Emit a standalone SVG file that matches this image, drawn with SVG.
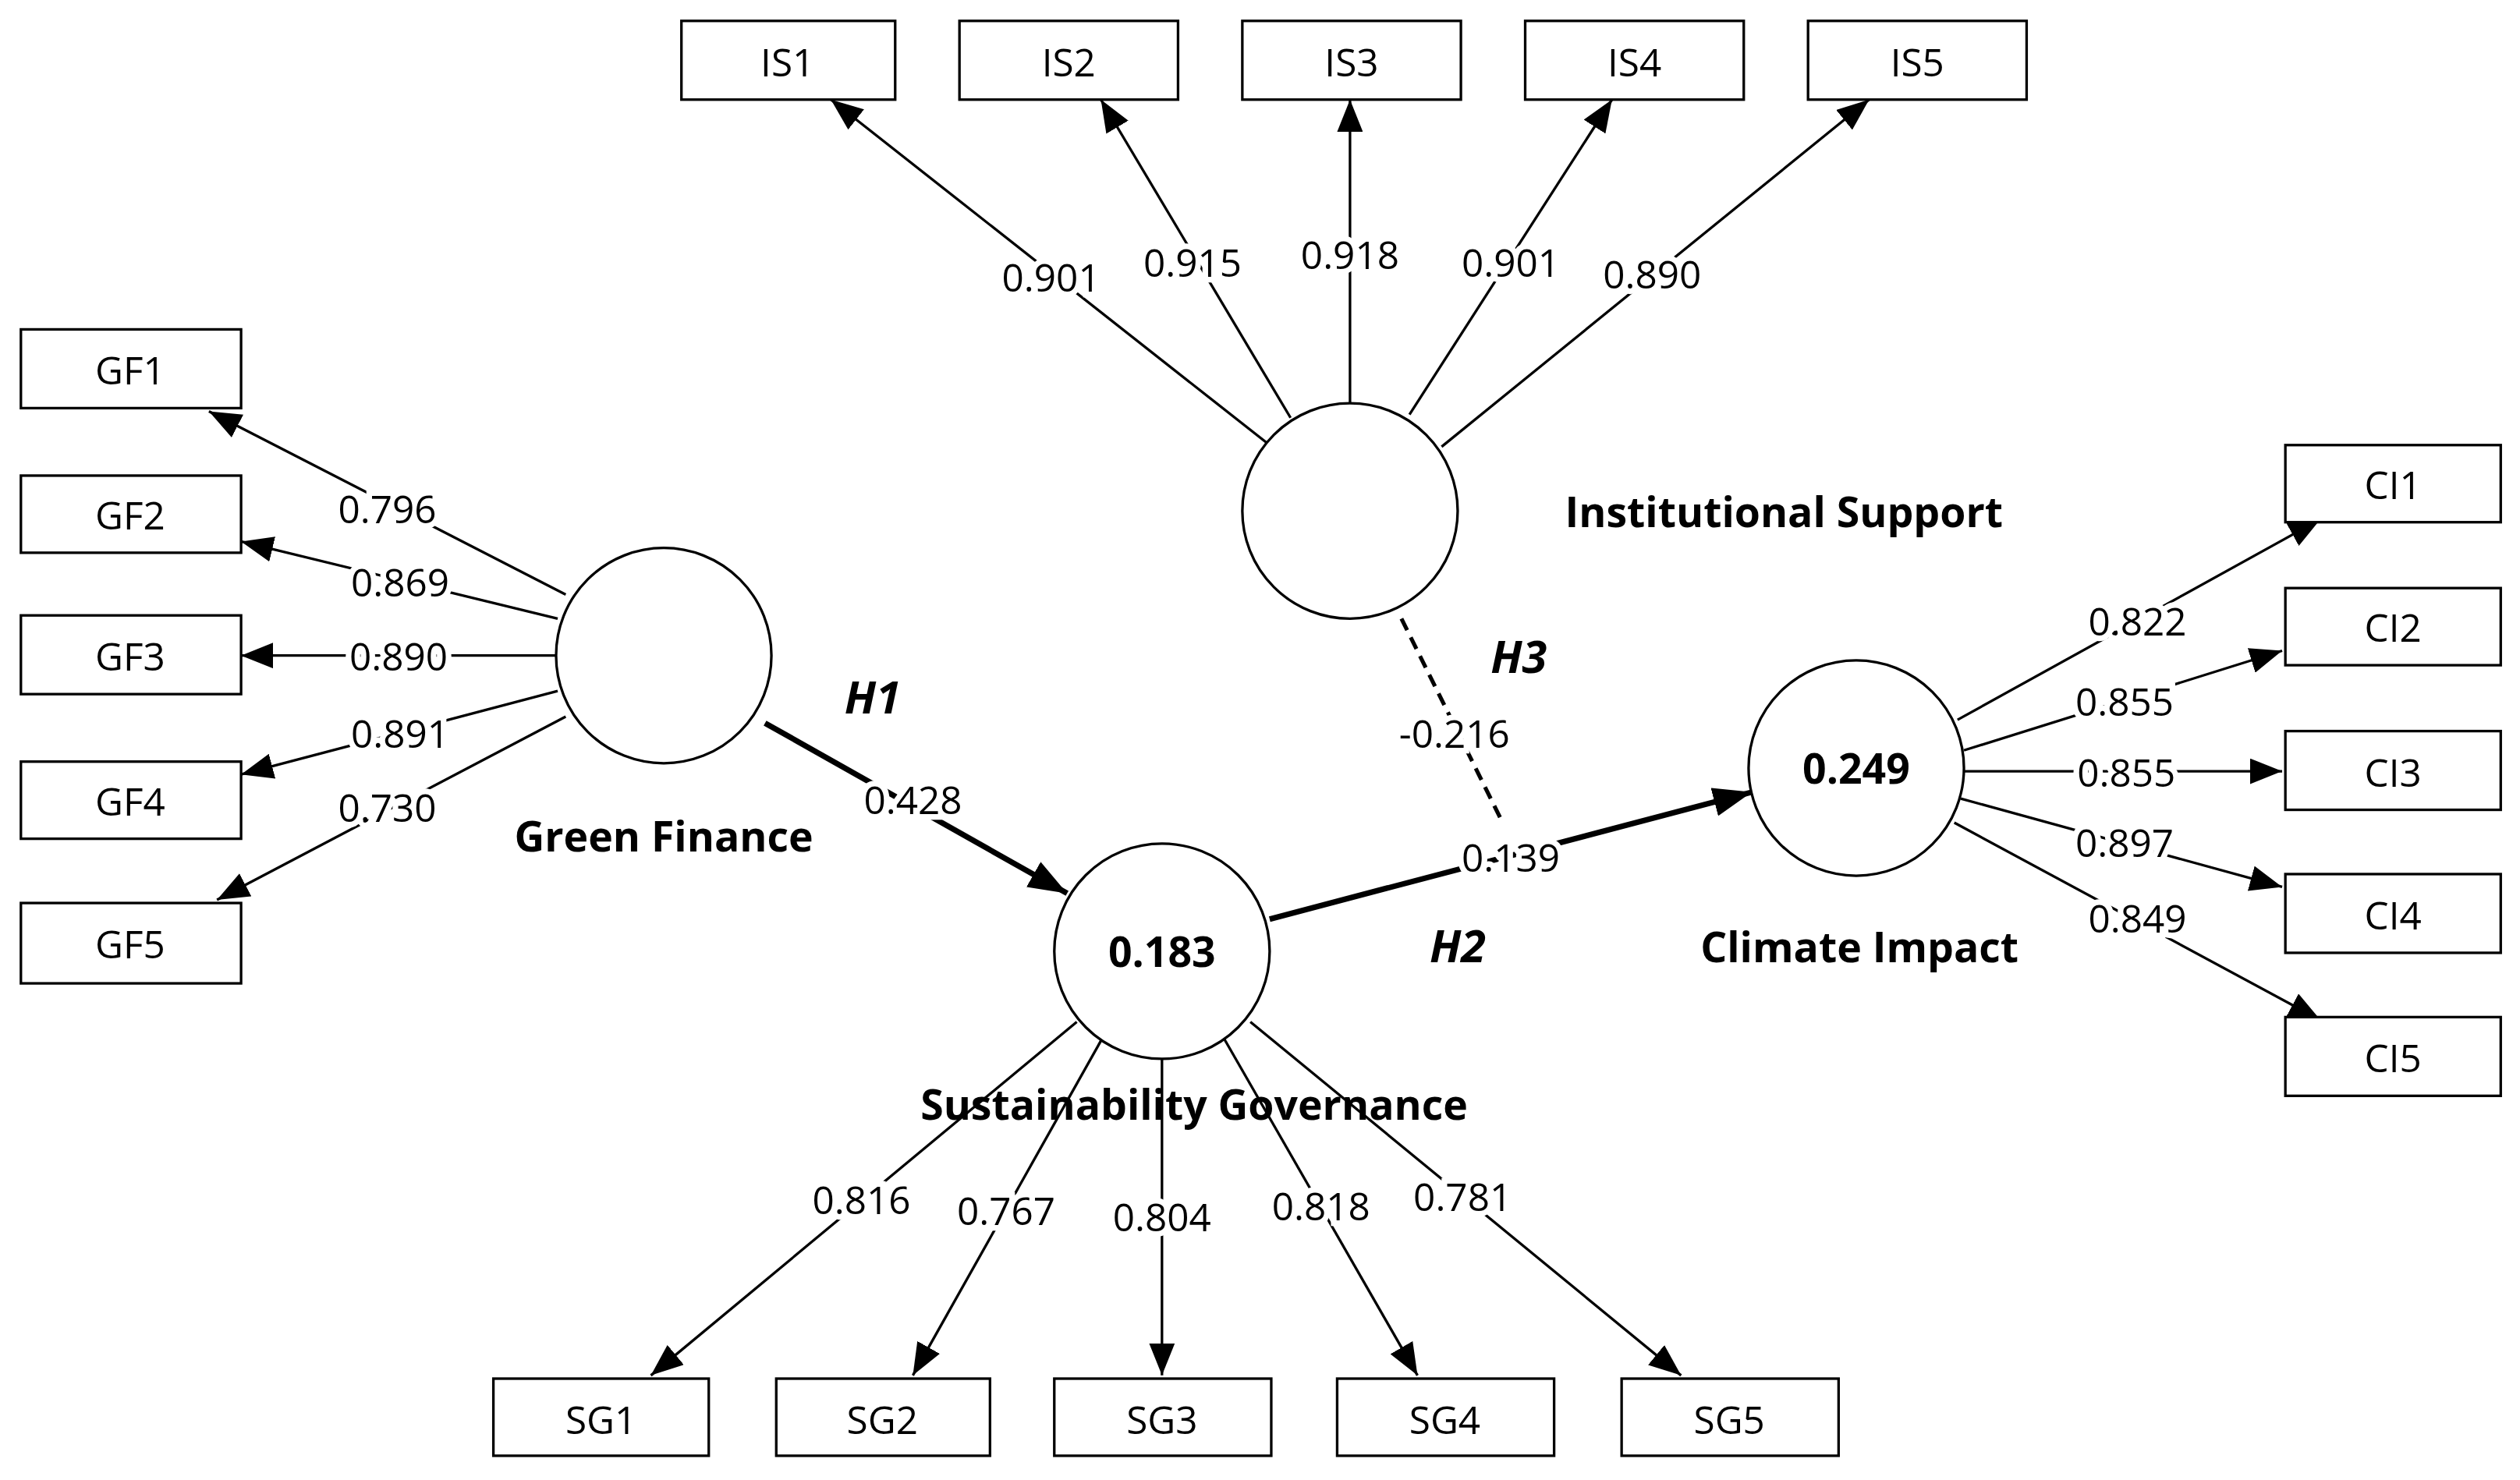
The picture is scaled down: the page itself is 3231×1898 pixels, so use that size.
<svg xmlns="http://www.w3.org/2000/svg" width="3231" height="1898" viewBox="0 0 3231 1898">
<style>
.box{fill:#fff;stroke:#000;stroke-width:1.6}
.lv{fill:#fff;stroke:#000;stroke-width:1.6}
.t{font-family:"Open Sans","Noto Sans",sans-serif;font-size:24px;text-anchor:middle;dominant-baseline:central;fill:#000}
.lb{font-family:"Open Sans","Noto Sans",sans-serif;font-size:24px;text-anchor:middle;dominant-baseline:central;fill:#000;stroke:#fff;stroke-width:7;paint-order:stroke}
.b{font-family:"Open Sans","Noto Sans",sans-serif;font-size:26px;font-weight:bold;text-anchor:middle;dominant-baseline:central;fill:#000}
.bi{font-family:"Open Sans","Noto Sans",sans-serif;font-size:28px;font-weight:bold;font-style:italic;text-anchor:middle;dominant-baseline:central;fill:#000}
.l{stroke:#000;stroke-width:1.6;fill:none;marker-end:url(#a)}
.h{stroke:#000;stroke-width:3.5;fill:none;marker-end:url(#a2)}
</style>
<defs>
<marker id="a" markerUnits="userSpaceOnUse" viewBox="0 0 20 16" refX="20" refY="8" markerWidth="20" markerHeight="16" orient="auto"><path d="M0,0L20,8L0,16z"/></marker>
<marker id="a2" markerUnits="userSpaceOnUse" viewBox="0 0 24 18" refX="24" refY="9" markerWidth="24" markerHeight="18" orient="auto"><path d="M0,0L24,9L0,18z"/></marker>
</defs>
<rect width="3231" height="1898" fill="#fff"/>
<g transform="scale(2.0606)">
<g id="connectors">
<line class="l" x1="790" y1="277" x2="517" y2="62"/>
<line class="l" x1="803" y1="260" x2="685" y2="62"/>
<line class="l" x1="840" y1="252" x2="840" y2="62"/>
<line class="l" x1="877" y1="258" x2="1003" y2="62"/>
<line class="l" x1="897" y1="278" x2="1163" y2="62"/>
<line class="l" x1="352" y1="370" x2="130" y2="256"/>
<line class="l" x1="347" y1="385" x2="150" y2="337"/>
<line class="l" x1="346" y1="408" x2="150" y2="408"/>
<line class="l" x1="347" y1="430" x2="150" y2="482"/>
<line class="l" x1="352" y1="446" x2="135" y2="560"/>
<line class="l" x1="1218" y1="448" x2="1444" y2="323"/>
<line class="l" x1="1222" y1="467" x2="1420" y2="405"/>
<line class="l" x1="1222" y1="480" x2="1420" y2="480"/>
<line class="l" x1="1220" y1="497" x2="1420" y2="552"/>
<line class="l" x1="1216" y1="512" x2="1444" y2="635"/>
<line class="l" x1="670" y1="636" x2="405" y2="856"/>
<line class="l" x1="686" y1="646" x2="568" y2="856"/>
<line class="l" x1="723" y1="659" x2="723" y2="856"/>
<line class="l" x1="762" y1="647" x2="882" y2="856"/>
<line class="l" x1="778" y1="636" x2="1046" y2="856"/>
<line class="h" x1="476" y1="450" x2="664" y2="556"/>
<line class="h" x1="790" y1="572" x2="1090" y2="493"/>
<line x1="872" y1="385" x2="935" y2="512" stroke="#000" stroke-width="2.5" stroke-dasharray="8,5"/>
<text class="lb" x="654" y="172">0.901</text>
<text class="lb" x="742" y="163">0.915</text>
<text class="lb" x="840" y="158">0.918</text>
<text class="lb" x="940" y="163">0.901</text>
<text class="lb" x="1028" y="170">0.890</text>
<text class="lb" x="241" y="316">0.796</text>
<text class="lb" x="249" y="362">0.869</text>
<text class="lb" x="248" y="408">0.890</text>
<text class="lb" x="249" y="456">0.891</text>
<text class="lb" x="241" y="502">0.730</text>
<text class="lb" x="1330" y="386">0.822</text>
<text class="lb" x="1322" y="436">0.855</text>
<text class="lb" x="1323" y="480">0.855</text>
<text class="lb" x="1322" y="524">0.897</text>
<text class="lb" x="1330" y="571">0.849</text>
<text class="lb" x="536" y="746">0.816</text>
<text class="lb" x="626" y="753">0.767</text>
<text class="lb" x="723" y="757">0.804</text>
<text class="lb" x="822" y="750">0.818</text>
<text class="lb" x="910" y="744">0.781</text>
<text class="lb" x="568" y="497">0.428</text>
<text class="lb" x="940" y="533">0.139</text>
<text class="lb" x="905" y="456">-0.216</text>
<text class="bi" x="543" y="433">H1</text>
<text class="bi" x="907" y="588">H2</text>
<text class="bi" x="945" y="408">H3</text>
</g>
<g id="IS1"><rect class="box" x="424" y="13" width="133" height="49"/><text class="t" x="490" y="38">IS1</text></g>
<g id="IS2"><rect class="box" x="597" y="13" width="136" height="49"/><text class="t" x="665" y="38">IS2</text></g>
<g id="IS3"><rect class="box" x="773" y="13" width="136" height="49"/><text class="t" x="841" y="38">IS3</text></g>
<g id="IS4"><rect class="box" x="949" y="13" width="136" height="49"/><text class="t" x="1017" y="38">IS4</text></g>
<g id="IS5"><rect class="box" x="1125" y="13" width="136" height="49"/><text class="t" x="1193" y="38">IS5</text></g>
<g id="GF1"><rect class="box" x="13" y="205" width="137" height="49"/><text class="t" x="81" y="230">GF1</text></g>
<g id="GF2"><rect class="box" x="13" y="296" width="137" height="48"/><text class="t" x="81" y="320">GF2</text></g>
<g id="GF3"><rect class="box" x="13" y="383" width="137" height="49"/><text class="t" x="81" y="408">GF3</text></g>
<g id="GF4"><rect class="box" x="13" y="474" width="137" height="48"/><text class="t" x="81" y="498">GF4</text></g>
<g id="GF5"><rect class="box" x="13" y="562" width="137" height="50"/><text class="t" x="81" y="587">GF5</text></g>
<g id="CI1"><rect class="box" x="1422" y="277" width="134" height="48"/><text class="t" x="1489" y="301">CI1</text></g>
<g id="CI2"><rect class="box" x="1422" y="366" width="134" height="48"/><text class="t" x="1489" y="390">CI2</text></g>
<g id="CI3"><rect class="box" x="1422" y="455" width="134" height="49"/><text class="t" x="1489" y="480">CI3</text></g>
<g id="CI4"><rect class="box" x="1422" y="544" width="134" height="49"/><text class="t" x="1489" y="569">CI4</text></g>
<g id="CI5"><rect class="box" x="1422" y="633" width="134" height="49"/><text class="t" x="1489" y="658">CI5</text></g>
<g id="SG1"><rect class="box" x="307" y="858" width="134" height="48"/><text class="t" x="374" y="883">SG1</text></g>
<g id="SG2"><rect class="box" x="483" y="858" width="133" height="48"/><text class="t" x="549" y="883">SG2</text></g>
<g id="SG3"><rect class="box" x="656" y="858" width="135" height="48"/><text class="t" x="723" y="883">SG3</text></g>
<g id="SG4"><rect class="box" x="832" y="858" width="135" height="48"/><text class="t" x="899" y="883">SG4</text></g>
<g id="SG5"><rect class="box" x="1009" y="858" width="135" height="48"/><text class="t" x="1076" y="883">SG5</text></g>
<g id="InstitutionalSupport"><ellipse class="lv" cx="840" cy="318" rx="67" ry="67"/><text class="b" x="1110" y="318">Institutional Support</text></g>
<g id="GreenFinance"><ellipse class="lv" cx="413" cy="408" rx="67" ry="67"/><text class="b" x="413" y="520">Green Finance</text></g>
<g id="SustainabilityGovernance"><ellipse class="lv" cx="723" cy="592" rx="67" ry="67"/><text class="b" x="723" y="592">0.183</text><text class="b" x="743" y="687">Sustainability Governance</text></g>
<g id="ClimateImpact"><ellipse class="lv" cx="1155" cy="478" rx="67" ry="67"/><text class="b" x="1155" y="478">0.249</text><text class="b" x="1157" y="589">Climate Impact</text></g>
</g>
</svg>
